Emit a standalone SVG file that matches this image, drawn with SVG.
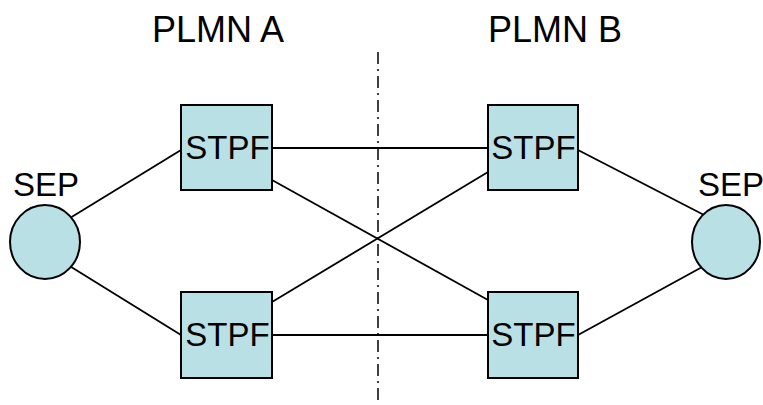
<svg xmlns="http://www.w3.org/2000/svg" width="763" height="405" viewBox="0 0 763 405">
<style>
.n{fill:#b9e0e4;stroke:#000;stroke-width:2}
.t{font-family:"Liberation Sans",Arial,sans-serif;font-size:33px;fill:#000}
.h{font-size:36px}
.c line{stroke:#000;stroke-width:1.8}
</style>
<rect width="763" height="405" fill="#fff"/>
<text class="t h" x="218" y="42" text-anchor="middle">PLMN A</text>
<text class="t h" x="555" y="42" text-anchor="middle">PLMN B</text>
<line x1="378" y1="52" x2="378" y2="405" stroke="#000" stroke-width="1.5" stroke-dasharray="12,5,2,5"/>
<g class="c">
<line x1="70" y1="218" x2="181" y2="150"/>
<line x1="68" y1="265" x2="181" y2="335"/>
<line x1="272" y1="148" x2="488" y2="148"/>
<line x1="272" y1="335" x2="488" y2="335"/>
<line x1="272" y1="180" x2="488" y2="300"/>
<line x1="272" y1="302" x2="488" y2="172"/>
<line x1="578" y1="150" x2="706" y2="216"/>
<line x1="578" y1="335" x2="704" y2="266"/>
</g>
<g id="sepA"><ellipse class="n" cx="45" cy="242" rx="35" ry="37"/><text class="t" x="46" y="196" text-anchor="middle">SEP</text></g>
<g id="stpfA1"><rect class="n" x="181" y="105" width="91" height="85"/><text class="t" x="227.5" y="159" text-anchor="middle">STPF</text></g>
<g id="stpfA2"><rect class="n" x="181" y="292" width="91" height="86"/><text class="t" x="227.5" y="346" text-anchor="middle">STPF</text></g>
<g id="stpfB1"><rect class="n" x="488" y="105" width="90" height="85"/><text class="t" x="533.5" y="159" text-anchor="middle">STPF</text></g>
<g id="stpfB2"><rect class="n" x="488" y="292" width="90" height="86"/><text class="t" x="533.5" y="346" text-anchor="middle">STPF</text></g>
<g id="sepB"><ellipse class="n" cx="726" cy="242" rx="34" ry="37"/><text class="t" x="731" y="196" text-anchor="middle">SEP</text></g>
</svg>
